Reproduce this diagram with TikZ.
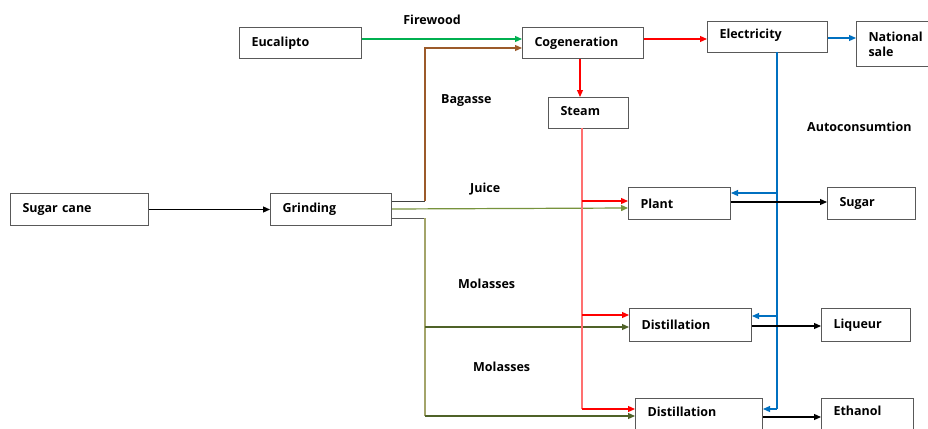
\documentclass[tikz,border=0pt]{standalone}
\usepackage{fontspec}
\setmainfont{Open Sans}
\usetikzlibrary{arrows.meta,calc}
\definecolor{fwgreen}{HTML}{00B050}
\definecolor{bagbrown}{HTML}{9C5A2A}
\definecolor{juice}{HTML}{77933C}
\definecolor{molv}{HTML}{A3A46A}
\definecolor{molh}{HTML}{4F6228}
\definecolor{elblue}{HTML}{0070C0}
\definecolor{stred}{HTML}{FF7070}
\definecolor{boxgray}{HTML}{595959}
\tikzset{
  box/.style={draw=boxgray, line width=1, anchor=north west, align=left,
    inner xsep=12, inner ysep=0, font=\bfseries\fontsize{12.5}{15}\selectfont},
  lbl/.style={font=\bfseries\fontsize{12.5}{15}\selectfont, inner sep=0},
  arr/.style={line width=1.2, -{Triangle[length=7,width=6]}},
  ln/.style={line width=1.2}
}
\begin{document}
\begin{tikzpicture}[x=1pt,y=-1pt]
\useasboundingbox (0,0) rectangle (928,428);
\fill[white] (0,0) rectangle (928,428);
% boxes
\node[box, text width=114, minimum height=32] (cane) at (10,193) {Sugar cane};
\node[box, text width=97, minimum height=32] (grind) at (270,193) {Grinding};
\node[box, text width=98, minimum height=31] (euc) at (239,27) {Eucalipto};
\node[box, text width=97, minimum height=31] (cogen) at (522,27) {Cogeneration};
\node[box, text width=96, minimum height=31, text depth=6] (elec) at (707,21) {Electricity};
\node[box, text width=70, minimum height=45] (nat) at (856,21) {National\\sale};
\node[box, text width=56, minimum height=31, text depth=5] (steam) at (548,97) {Steam};
\node[box, text width=78, minimum height=32] (plant) at (628,187) {Plant};
\node[box, text width=64, minimum height=32] (sugar) at (827,187) {Sugar};
\node[box, text width=98, minimum height=33] (dist1) at (629,308) {Distillation};
\node[box, text width=65, minimum height=33] (liq) at (821,308) {Liqueur};
\node[box, text width=103, minimum height=40, text depth=14] (dist2) at (635,398) {Distillation};
\node[box, text width=68, minimum height=40, text depth=16] (eth) at (821,398) {Ethanol};
% labels
\node[lbl] (lfw) at (432,20) {Firewood};
\node[lbl, anchor=west] (lbag) at (441,101) {Bagasse};
\node[lbl, anchor=west] (ljui) at (470,189) {Juice};
\node[lbl, anchor=west] (lmol1) at (458,284) {Molasses};
\node[lbl, anchor=west] (lmol2) at (473,367) {Molasses};
\node[lbl, anchor=west] (laut) at (807,127) {Autoconsumtion};
% junction coordinates
\coordinate (bx) at (425,201);
\coordinate (mx) at (425,218);
\coordinate (mb) at (425,416);
\coordinate (st) at (582,128);
\coordinate (sb) at (582,409);
\coordinate (et) at (777,52);
\coordinate (eb) at (777,409);
% connectors
\draw[arr, black] (cane.east) -- (grind.west);
\draw[arr, fwgreen] (euc.east |- 0,39) -- (cogen.west |- 0,39);
\draw[ln, black!75, line width=1] (grind.east |- bx) -- (bx);
\draw[arr, bagbrown] (bx) |- (cogen.west |- 0,48);
\draw[arr, juice] (grind.east |- 0,209) -- (plant.west |- 0,208);
\draw[ln, black!65, line width=1] (grind.east |- mx) -- (mx);
\draw[ln, molv] (mx) -- (mb);
\draw[arr, molh] (425,327) -- (dist1.west |- 0,327);
\draw[arr, molh] (mb) -- (dist2.west |- mb);
\draw[arr, red] (cogen.south -| 580,0) -- (steam.north -| 580,0);
\draw[arr, red] (cogen.east |- 0,39) -- (elec.west |- 0,39);
\draw[ln, stred] (st) -- (sb);
\draw[arr, red] (582,201) -- (plant.west |- 0,201);
\draw[arr, red] (582,315) -- (dist1.west |- 0,315);
\draw[arr, red] (sb) -- (dist2.west |- sb);
\draw[arr, elblue] (elec.east |- 0,38) -- (nat.west |- 0,38);
\draw[ln, elblue] (et) -- (eb);
\draw[arr, elblue] (777,193) -- (plant.east |- 0,193);
\draw[arr, elblue] (777,316) -- (dist1.east |- 0,316);
\draw[arr, elblue] (eb) -- (dist2.east |- eb);
\draw[arr, black] (plant.east |- 0,202) -- (sugar.west |- 0,202);
\draw[arr, black] (dist1.east |- 0,326) -- (liq.west |- 0,326);
\draw[arr, black] (dist2.east |- 0,417) -- (eth.west |- 0,417);
\end{tikzpicture}
\end{document}
